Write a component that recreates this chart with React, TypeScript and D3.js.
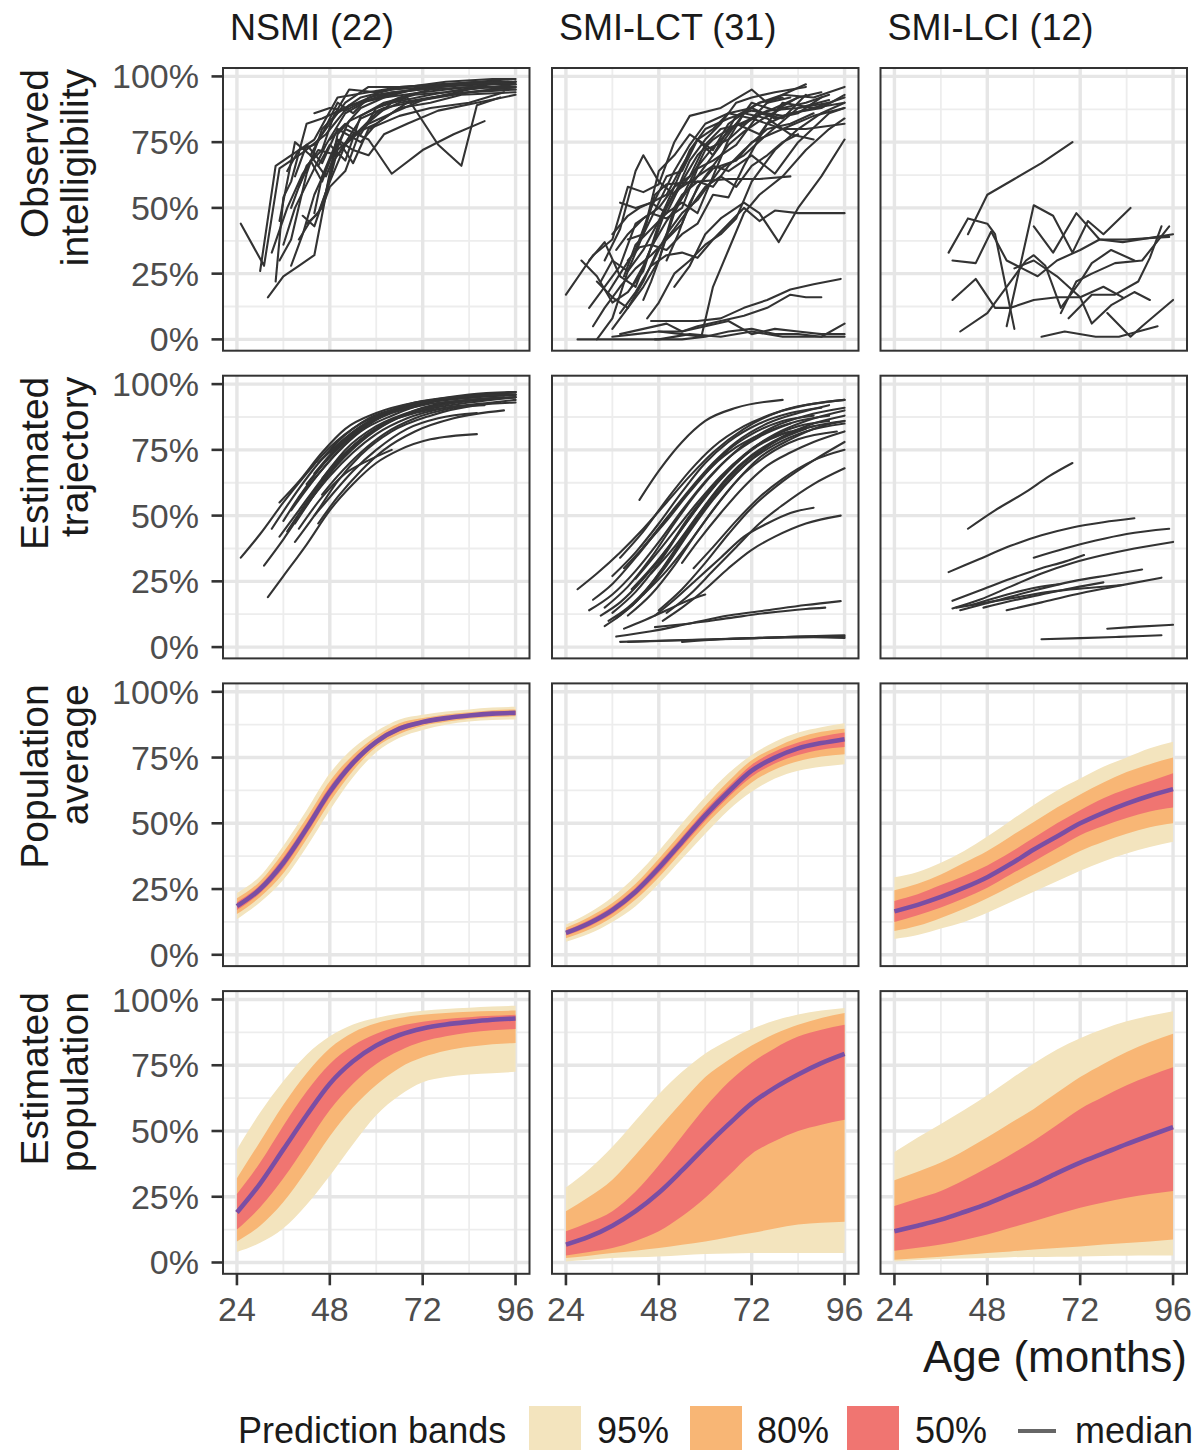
import React from 'react';
import * as d3 from 'd3';

// ---- layout / ticks ----
const ageTicks = [24, 48, 72, 96];
const ageMinor = [36, 60, 84];
const pctTicks = [0, 0.25, 0.5, 0.75, 1];
const pctMinor = [0.125, 0.375, 0.625, 0.875];
const groups = ['NSMI (22)', 'SMI-LCT (31)', 'SMI-LCI (12)'];
const rowTitles = [
  ['Observed', 'intelligibility'],
  ['Estimated', 'trajectory'],
  ['Population', 'average'],
  ['Estimated', 'population'],
];
const bandAges = [24, 30, 36, 42, 48, 54, 60, 66, 72, 78, 84, 90, 96];

// ---- observed intelligibility, one list of [age, %] per child ----
const nsmiObserved = [
  [[25, 44], [31, 28], [35, 65], [41, 71], [47, 78], [53, 89], [62, 92], [72, 96], [84, 97], [96, 97]],
  [[30, 26], [34, 66], [38, 70], [44, 76], [50, 92], [58, 94], [66, 96], [78, 97], [95, 99]],
  [[32, 16], [36, 24], [40, 28], [44, 32], [47, 55], [50, 72], [56, 80], [64, 90], [74, 93], [86, 96], [96, 95]],
  [[34, 22], [36, 54], [38, 60], [42, 82], [46, 84], [52, 88], [60, 93], [70, 95], [82, 97], [95, 98]],
  [[33, 33], [37, 50], [41, 63], [45, 72], [50, 70], [56, 84], [62, 88], [72, 91], [84, 94], [96, 96]],
  [[35, 45], [39, 75], [43, 70], [47, 62], [52, 80], [58, 76], [64, 63], [72, 72], [80, 78], [88, 83]],
  [[38, 28], [41, 40], [44, 55], [48, 68], [53, 83], [60, 88], [68, 92], [76, 74], [82, 66], [86, 89], [92, 92]],
  [[36, 36], [39, 50], [43, 62], [47, 74], [52, 86], [58, 91], [66, 94], [76, 96], [88, 97], [96, 98]],
  [[40, 38], [43, 45], [46, 50], [49, 68], [54, 78], [60, 82], [68, 90], [78, 93], [90, 95], [96, 96]],
  [[42, 44], [45, 48], [48, 60], [52, 74], [58, 82], [64, 86], [72, 91], [84, 95], [96, 97]],
  [[41, 47], [44, 43], [47, 56], [50, 78], [56, 88], [62, 92], [72, 94], [84, 96], [96, 98]],
  [[37, 64], [40, 72], [44, 74], [48, 82], [52, 90], [58, 96], [66, 96], [76, 97], [88, 98], [96, 98]],
  [[40, 58], [43, 68], [46, 60], [50, 76], [54, 67], [58, 80], [66, 85], [74, 88], [84, 90], [93, 94]],
  [[44, 86], [48, 88], [52, 87], [56, 90], [62, 93], [70, 95], [80, 97], [92, 97]],
  [[38, 50], [42, 66], [46, 72], [49, 85], [53, 95], [60, 94], [68, 96], [78, 98], [90, 99], [96, 99]],
  [[35, 30], [38, 38], [42, 63], [46, 80], [50, 86], [56, 92], [64, 95], [74, 96], [86, 98], [96, 97]],
  [[44, 48], [46, 62], [50, 76], [54, 72], [58, 70], [62, 78], [68, 82], [76, 87], [86, 90], [96, 93]],
  [[46, 50], [48, 58], [52, 64], [56, 80], [60, 86], [66, 90], [74, 92], [84, 94], [96, 95]],
  [[39, 62], [42, 74], [46, 67], [50, 80], [56, 75], [60, 82], [66, 88], [74, 90], [82, 93], [96, 94]],
  [[43, 70], [46, 78], [50, 90], [54, 86], [58, 92], [64, 94], [72, 95], [82, 97], [94, 98]],
  [[48, 76], [52, 82], [56, 78], [60, 88], [66, 92], [74, 95], [84, 96], [96, 96]],
  [[45, 66], [48, 74], [52, 68], [56, 85], [62, 90], [70, 93], [78, 94], [88, 96]],
];

const lctObserved = [
  [[24, 17], [31, 32], [36, 38], [40, 58], [44, 56], [48, 59], [52, 75], [56, 85], [64, 88], [72, 95], [76, 90], [80, 93], [86, 97]],
  [[30, 30], [34, 37], [38, 24], [42, 20], [46, 35], [50, 45], [56, 58], [62, 70], [68, 85], [74, 90], [80, 93], [88, 92], [96, 96]],
  [[32, 0], [36, 8], [40, 26], [44, 34], [48, 45], [52, 58], [56, 72], [60, 80], [66, 84], [72, 87], [80, 85], [88, 88], [96, 90]],
  [[34, 30], [38, 42], [42, 64], [44, 70], [48, 60], [52, 55], [56, 62], [62, 73], [68, 82], [74, 78], [80, 90], [88, 88], [96, 92]],
  [[36, 4], [40, 12], [44, 20], [48, 30], [52, 48], [56, 60], [60, 72], [66, 76], [72, 84], [80, 80], [86, 80], [96, 82]],
  [[38, 10], [42, 18], [46, 28], [50, 40], [54, 48], [58, 53], [64, 65], [70, 70], [76, 78], [84, 88], [92, 90]],
  [[31, 5], [34, 12], [38, 20], [42, 27], [46, 32], [50, 38], [54, 44], [58, 58], [62, 65], [68, 68], [72, 75], [80, 80], [88, 85], [96, 88]],
  [[28, 30], [32, 24], [36, 14], [40, 18], [44, 26], [48, 44], [52, 56], [56, 60], [62, 66], [66, 64], [72, 70], [78, 63], [84, 75], [92, 86], [96, 88]],
  [[40, 38], [44, 40], [48, 64], [52, 70], [56, 78], [62, 72], [66, 82], [70, 86], [76, 84], [82, 78], [88, 76]],
  [[38, 52], [42, 50], [46, 52], [50, 55], [54, 66], [58, 76], [62, 80], [66, 86], [72, 84], [76, 90], [82, 92]],
  [[44, 40], [47, 55], [50, 59], [58, 60], [66, 61], [74, 61], [82, 62]],
  [[46, 28], [50, 32], [54, 33], [58, 31], [62, 38], [66, 44], [70, 50], [74, 45], [78, 49], [84, 48], [90, 48], [96, 48]],
  [[52, 20], [56, 28], [60, 40], [64, 46], [70, 52], [74, 48], [79, 37], [84, 50], [90, 62], [96, 76]],
  [[46, 7], [52, 7], [58, 7], [64, 8], [70, 12], [76, 15], [82, 19], [88, 21], [95, 23]],
  [[36, 1], [42, 2], [48, 3], [54, 3], [58, 5], [64, 7], [70, 9], [76, 12], [82, 17], [86, 16], [90, 16]],
  [[27, 0], [33, 0], [40, 0], [48, 0], [56, 2], [64, 1], [72, 3], [80, 1], [88, 1], [96, 1]],
  [[47, 0], [54, 0], [60, 1], [66, 3], [72, 4], [78, 2], [84, 2], [90, 1], [96, 6]],
  [[38, 2], [44, 4], [50, 6], [54, 3], [60, 5], [66, 7], [72, 2], [78, 4], [84, 3], [90, 2], [96, 2]],
  [[33, 22], [36, 30], [40, 26], [44, 40], [48, 52], [52, 64], [56, 74], [60, 82], [66, 86], [72, 88], [78, 84], [84, 86], [90, 92]],
  [[35, 18], [38, 25], [42, 34], [46, 50], [50, 62], [54, 64], [58, 76], [62, 70], [66, 78], [72, 90], [78, 87], [84, 92], [90, 94]],
  [[30, 12], [34, 20], [38, 28], [42, 44], [46, 48], [50, 46], [54, 50], [58, 65], [62, 68], [68, 74], [74, 86], [80, 84], [86, 93]],
  [[39, 24], [42, 36], [46, 42], [50, 48], [54, 52], [58, 48], [62, 62], [66, 76], [70, 86], [74, 90], [80, 92]],
  [[44, 15], [46, 22], [48, 30], [50, 40], [52, 50], [54, 55], [58, 60], [62, 58], [66, 66], [70, 72], [76, 80], [82, 82], [88, 86]],
  [[48, 3], [54, 2], [59, 1], [62, 20], [66, 34], [70, 48], [74, 55], [80, 62], [86, 72], [92, 80], [96, 84]],
  [[40, 30], [43, 35], [46, 36], [50, 34], [54, 40], [58, 44], [62, 55], [66, 54], [70, 66], [76, 82], [82, 86], [90, 88], [96, 93]],
  [[36, 40], [40, 47], [43, 50], [46, 52], [50, 48], [54, 60], [58, 70], [62, 76], [66, 80], [72, 84], [78, 88], [84, 92]],
  [[45, 8], [48, 14], [52, 25], [56, 30], [60, 36], [64, 40], [68, 46], [72, 60], [78, 72], [84, 80], [90, 86], [96, 90]],
  [[32, 22], [36, 16], [40, 12], [44, 22], [48, 35], [52, 42], [56, 50], [60, 58], [64, 62], [68, 58], [72, 66], [76, 70], [80, 75], [84, 78]],
  [[37, 34], [40, 40], [44, 46], [48, 50], [52, 58], [56, 62], [60, 74], [64, 80], [70, 82], [76, 87], [84, 88], [92, 91]],
  [[50, 30], [53, 40], [56, 52], [59, 60], [62, 66], [66, 74], [70, 79], [75, 84], [80, 88], [86, 90], [92, 93]],
  [[41, 20], [44, 28], [47, 38], [50, 50], [53, 58], [56, 68], [60, 76], [64, 82], [68, 90], [72, 92], [78, 94], [86, 96]],
];

const lciObserved = [
  [[38, 33], [43, 46], [48, 44], [50, 40], [55, 4]],
  [[43, 40], [48, 55], [55, 61], [62, 67], [70, 75]],
  [[39, 30], [45, 29], [49, 41], [53, 30], [57, 27], [61, 24], [66, 30], [72, 34], [77, 38], [84, 38], [95, 39]],
  [[39, 15], [45, 23], [50, 12], [54, 12], [60, 15], [66, 16], [72, 16], [78, 20], [83, 16]],
  [[41, 3], [48, 10], [54, 22], [58, 30], [60, 32], [63, 28], [67, 12], [72, 22], [75, 29], [80, 34], [86, 30]],
  [[53, 5], [60, 51], [65, 47], [70, 33], [74, 45], [78, 40], [85, 50]],
  [[60, 43], [65, 33], [71, 48], [77, 38], [83, 37], [96, 40]],
  [[55, 27], [60, 30], [66, 24], [72, 16], [75, 6], [80, 13], [86, 18], [90, 15]],
  [[67, 10], [71, 22], [75, 25], [81, 29], [88, 30], [95, 43]],
  [[69, 8], [75, 17], [81, 17], [87, 22], [90, 31], [93, 43]],
  [[79, 10], [85, 1], [88, 5], [96, 15]],
  [[62, 1], [68, 3], [76, 1], [82, 1], [92, 5]],
];

// ---- estimated individual trajectories ----
const nsmiEstimated = [
  [[25, 34], [30, 43], [36, 55], [42, 66], [48, 76], [56, 85], [64, 90], [72, 93], [84, 95], [96, 96]],
  [[31, 31], [36, 41], [42, 54], [48, 66], [56, 78], [64, 86], [72, 91], [84, 94], [96, 95]],
  [[32, 19], [36, 27], [42, 39], [48, 52], [54, 62], [60, 70], [66, 75], [74, 79], [86, 81]],
  [[33, 45], [38, 56], [44, 68], [50, 78], [58, 87], [66, 91], [76, 94], [88, 96], [96, 97]],
  [[35, 42], [40, 52], [46, 64], [52, 75], [60, 84], [70, 90], [80, 93], [93, 95]],
  [[35, 55], [40, 63], [46, 74], [52, 83], [60, 89], [70, 93], [82, 95], [96, 97]],
  [[37, 44], [42, 55], [48, 67], [54, 76], [62, 85], [72, 90], [84, 93], [96, 95]],
  [[39, 40], [44, 50], [50, 63], [56, 73], [64, 82], [74, 88], [86, 92], [96, 93]],
  [[40, 57], [44, 64], [50, 74], [56, 82], [64, 88], [74, 93], [86, 95], [96, 96]],
  [[36, 48], [40, 57], [46, 69], [52, 79], [60, 87], [70, 92], [82, 95], [96, 96]],
  [[44, 50], [48, 57], [54, 67], [60, 75], [68, 83], [76, 87], [86, 89]],
  [[45, 47], [50, 57], [56, 67], [62, 75], [70, 82], [80, 87], [93, 90]],
  [[40, 45], [46, 57], [52, 66], [58, 71], [64, 75]],
  [[38, 52], [42, 60], [48, 71], [54, 80], [62, 88], [72, 93], [84, 96], [96, 97]],
  [[42, 62], [46, 69], [52, 78], [58, 85], [66, 91], [76, 94], [88, 96], [96, 97]],
  [[44, 66], [48, 73], [54, 81], [60, 87], [70, 92], [80, 95], [95, 96]],
  [[46, 58], [50, 65], [56, 74], [62, 81], [70, 87], [80, 91], [92, 93]],
  [[39, 47], [44, 58], [50, 70], [56, 79], [64, 86], [74, 91], [86, 94], [96, 95]],
  [[43, 56], [48, 65], [54, 74], [60, 81], [68, 87], [78, 91], [90, 93], [96, 94]],
  [[45, 70], [50, 77], [56, 84], [62, 89], [70, 93], [80, 95], [94, 96]],
  [[48, 74], [52, 79], [58, 85], [64, 89], [72, 92], [84, 94], [96, 95]],
  [[46, 64], [50, 71], [56, 79], [62, 85], [70, 89], [78, 91], [88, 92]],
];

const lctEstimated = [
  [[43, 56], [48, 67], [54, 78], [60, 86], [68, 91], [80, 94]],
  [[27, 22], [32, 28], [38, 36], [44, 45], [50, 55], [56, 65], [62, 74], [70, 83], [80, 90], [90, 93], [96, 94]],
  [[34, 8], [38, 12], [44, 20], [50, 31], [56, 44], [62, 56], [68, 66], [74, 74], [80, 80], [88, 85], [96, 88]],
  [[37, 4], [46, 6], [56, 9], [66, 12], [76, 14], [86, 16], [95, 17.5]],
  [[38, 2], [50, 2.5], [62, 3], [74, 3.5], [86, 4], [96, 4]],
  [[47, 7.6], [56, 9], [66, 11], [76, 13], [86, 14.5], [91, 15]],
  [[54, 2], [64, 3], [74, 3.5], [84, 4], [96, 4.5]],
  [[40, 2], [52, 2.5], [64, 3], [76, 3.5], [88, 3.8], [96, 3.5]],
  [[31, 18], [36, 24], [42, 34], [48, 45], [54, 56], [60, 66], [66, 75], [72, 81], [80, 86], [88, 88]],
  [[33, 12], [38, 17], [44, 26], [50, 37], [56, 50], [62, 61], [68, 70], [76, 79], [84, 84], [92, 86]],
  [[35, 10], [40, 15], [46, 24], [52, 36], [58, 49], [64, 60], [70, 69], [78, 77], [86, 82], [96, 85]],
  [[36, 13], [42, 21], [48, 32], [54, 45], [60, 57], [66, 67], [72, 75], [80, 81], [88, 84]],
  [[34, 15], [40, 23], [46, 34], [52, 47], [58, 59], [64, 69], [70, 77], [78, 84], [86, 88], [96, 91]],
  [[37, 11], [42, 17], [48, 28], [54, 41], [60, 54], [66, 65], [72, 73], [80, 80], [88, 84], [96, 86]],
  [[40, 12], [46, 20], [52, 31], [58, 44], [64, 56], [70, 66], [76, 73], [84, 79], [94, 82]],
  [[42, 26], [46, 33], [52, 44], [58, 55], [64, 65], [70, 73], [76, 79], [82, 82]],
  [[39, 7], [44, 10], [50, 14], [56, 18], [60, 20]],
  [[48, 14], [54, 22], [60, 32], [66, 43], [72, 53], [80, 63], [88, 71], [96, 78]],
  [[47, 12], [52, 18], [58, 26], [64, 34], [70, 42], [76, 47], [82, 51], [88, 53]],
  [[49, 10], [54, 15], [60, 22], [66, 30], [72, 37], [78, 42], [86, 47], [95, 50]],
  [[50, 13], [56, 20], [62, 29], [68, 38], [74, 47], [80, 54], [88, 62], [96, 68]],
  [[39, 30], [44, 38], [50, 49], [56, 60], [62, 70], [68, 78], [76, 85], [84, 89], [92, 92]],
  [[41, 22], [46, 30], [52, 41], [58, 53], [64, 64], [70, 73], [78, 81], [86, 86], [96, 90]],
  [[44, 20], [50, 29], [56, 40], [62, 52], [68, 63], [74, 72], [82, 79], [90, 84], [96, 86]],
  [[46, 28], [52, 38], [58, 50], [64, 61], [70, 70], [78, 78], [86, 83]],
  [[30, 14], [36, 20], [42, 29], [48, 40], [54, 52], [60, 63], [66, 72], [74, 80], [82, 85]],
  [[38, 34], [44, 44], [50, 56], [56, 67], [62, 76], [70, 84], [78, 89], [86, 92], [96, 94]],
  [[36, 27], [42, 36], [48, 47], [54, 59], [60, 70], [66, 78], [74, 85], [82, 89], [90, 91]],
  [[44, 38], [50, 48], [56, 59], [62, 69], [68, 76], [76, 82], [84, 86], [92, 88]],
  [[54, 32], [58, 40], [64, 51], [70, 61], [76, 69], [82, 74], [88, 78], [96, 82]],
  [[57, 30], [62, 38], [68, 48], [74, 57], [80, 64], [88, 71], [96, 75]],
];

const lciEstimated = [
  [[43, 45], [50, 52], [58, 59], [64, 65], [70, 70]],
  [[38, 28.5], [46, 33.5], [54, 38.5], [62, 42.5], [70, 45.5], [78, 47.5], [86, 49]],
  [[60, 34], [68, 37.5], [76, 40.5], [84, 43], [95, 45]],
  [[39, 17.6], [46, 21.5], [54, 26], [62, 30], [68, 32.5], [73, 35]],
  [[39, 14.7], [46, 18], [54, 23], [62, 28], [70, 32], [78, 35], [86, 37.5], [96, 40]],
  [[41, 14], [50, 17.5], [60, 21.5], [70, 25], [80, 27.5], [88, 29.5]],
  [[47, 15], [54, 17.5], [62, 20], [70, 22.5], [78, 24.6]],
  [[53, 14], [62, 17], [70, 19.8], [80, 22.8], [93, 26.4]],
  [[40, 15], [48, 17], [56, 19], [64, 21], [74, 22.5], [83, 23.6]],
  [[79, 7], [86, 7.7], [96, 8.5]],
  [[62, 3], [72, 3.4], [82, 3.9], [93, 4.5]],
  [[44, 16], [52, 19.5], [60, 22.5], [67, 24]],
];

// ---- population average (row 3), % at bandAges ----
const nsmiAvgMed = [18.5, 25, 35, 48, 62, 73, 81, 86, 88.5, 90, 91, 91.7, 92];
const nsmiAvgLo50 = [17, 23.5, 33, 46, 60, 71.5, 80, 85, 87.7, 89.3, 90.4, 91, 91.3];
const nsmiAvgHi50 = [20, 26.5, 37, 50, 64, 74.5, 82, 87, 89.3, 90.7, 91.6, 92.4, 92.7];
const nsmiAvgLo80 = [15.5, 22, 31, 44, 58, 70, 79, 84, 87, 88.6, 89.8, 90.4, 90.7];
const nsmiAvgHi80 = [21.5, 28, 39, 52, 66, 76, 83, 88, 90, 91.4, 92.2, 93, 93.3];
const nsmiAvgLo95 = [13.5, 20, 28.5, 41, 55, 67.5, 77, 82.5, 85.5, 87.5, 88.7, 89.3, 89.5];
const nsmiAvgHi95 = [23.5, 30, 41.5, 55, 69, 78.5, 85, 89.5, 91.3, 92.5, 93.3, 94, 94.3];

const lctAvgMed = [8.3, 12, 17, 24, 33, 43, 53, 62, 70, 75, 78.5, 80.5, 82];
const lctAvgLo50 = [7.3, 10.8, 15.6, 22.5, 31.2, 41.2, 51, 60, 67.7, 72.7, 76, 78, 79];
const lctAvgHi50 = [9.3, 13.2, 18.4, 25.5, 34.8, 44.8, 55, 64, 72.3, 77.3, 80.7, 83, 84.5];
const lctAvgLo80 = [6.3, 9.6, 14.3, 21, 29.5, 39.3, 49.2, 58, 65.5, 70.5, 73.6, 75.4, 76.3];
const lctAvgHi80 = [10.3, 14.4, 19.7, 27, 36.5, 46.7, 56.8, 66, 74, 78.7, 82.5, 84.8, 86];
const lctAvgLo95 = [5, 8, 12.5, 18.5, 27, 36.5, 46, 55, 62, 67, 70, 71.5, 72.5];
const lctAvgHi95 = [11.5, 16, 22, 30, 39.5, 50, 60, 69, 76, 81, 84.5, 86.5, 88];

const lciAvgMed = [16.5, 19, 22, 25.5, 29.5, 34.5, 40, 45, 50, 54, 57.5, 60.5, 63];
const lciAvgLo50 = [12.5, 15, 18, 21.5, 25.5, 30.5, 35.5, 40.5, 45.5, 49, 52, 54.5, 56];
const lciAvgHi50 = [20.5, 23, 26.5, 30, 34, 39, 44.5, 50, 55, 59.5, 63, 66, 69];
const lciAvgLo80 = [9, 11, 14, 17.5, 21.5, 26, 30.5, 35, 39.5, 43, 46, 48.5, 50];
const lciAvgHi80 = [24.5, 27, 30.5, 35, 39.5, 45, 50.5, 56, 61, 65.5, 69.5, 72.5, 75];
const lciAvgLo95 = [6, 7.5, 10, 12.5, 16, 20, 24, 28, 32, 35.5, 38.5, 41, 43];
const lciAvgHi95 = [29.5, 31.5, 35, 39.5, 45, 51, 57, 62.5, 67, 71.5, 75, 78.5, 81];

// ---- estimated population (row 4) ----
const nsmiPopMed = [19, 30, 43, 56, 68, 76.5, 82.5, 86.5, 89, 90.5, 91.5, 92.3, 92.8];
const nsmiPopLo50 = [12.5, 21, 32, 45, 58, 68, 75.5, 80.5, 84, 86, 87.5, 88.3, 88.8];
const nsmiPopHi50 = [26, 38, 52, 65, 75.5, 82.5, 87, 89.8, 91.5, 92.6, 93.3, 93.8, 94.2];
const nsmiPopLo80 = [8, 14, 23, 35, 48, 59, 67.5, 74, 78, 80.5, 82, 83, 83.5];
const nsmiPopHi80 = [32, 46, 60, 72, 81.5, 87.5, 91, 93, 94.2, 94.9, 95.3, 95.6, 95.8];
const nsmiPopLo95 = [4, 7.5, 13, 22, 33, 45, 56, 63.5, 68.5, 70.5, 71.5, 72, 72.5];
const nsmiPopHi95 = [43, 57, 69, 79, 86, 90.5, 93, 94.7, 95.7, 96.4, 96.9, 97.3, 97.6];

const lctPopMed = [6.8, 9.8, 14, 19.5, 26.5, 35, 44, 52.5, 60.5, 66.5, 71.5, 75.8, 79.3];
const lctPopLo50 = [2.7, 4, 5.5, 8.2, 11.9, 17.6, 24.6, 33, 41.3, 46.2, 50, 52.4, 54.3];
const lctPopHi50 = [11.9, 15.3, 19.5, 27, 37, 48, 59, 68.5, 76, 81.5, 85.9, 88.5, 90.4];
const lctPopLo80 = [1.7, 2.6, 3.6, 4.5, 5.5, 6.7, 8, 9.6, 11.2, 12.9, 14.4, 15.1, 15.5];
const lctPopHi80 = [19.5, 25, 31.5, 41, 51, 61, 70.5, 77, 82.5, 87, 90.4, 93, 94.9];
const lctPopLo95 = [0.4, 1, 1.7, 2, 2.3, 2.8, 3.2, 3.4, 3.6, 3.6, 3.6, 3.6, 3.6];
const lctPopHi95 = [28.5, 35.5, 44, 54, 64, 72.5, 79.5, 84.5, 88.8, 92, 94.3, 95.8, 96.8];

const lciPopMed = [11.9, 14, 16.3, 19.2, 22.3, 26, 29.7, 34, 38, 41.5, 45, 48.3, 51.5];
const lciPopLo50 = [4.5, 5.6, 6.8, 8.6, 10.6, 13.2, 15.7, 18.3, 20.8, 22.8, 24.6, 26, 27.2];
const lciPopHi50 = [21.5, 24.3, 27.2, 31.4, 36, 41, 46.3, 52.3, 58.4, 63, 67.4, 71, 74.2];
const lciPopLo80 = [1, 1.6, 2.2, 2.9, 3.6, 4.2, 4.9, 5.5, 6.1, 6.8, 7.4, 8, 8.7];
const lciPopHi80 = [31.3, 34.5, 38, 42.5, 47.6, 53, 58.4, 64.5, 70.5, 75.5, 80, 83.8, 87];
const lciPopLo95 = [0.4, 0.9, 1.3, 1.5, 1.7, 2, 2.1, 2.2, 2.3, 2.5, 2.6, 2.7, 2.7];
const lciPopHi95 = [42, 47.5, 52.7, 58, 63.6, 69.7, 75.7, 81, 85.3, 88.8, 91.7, 93.8, 95.5];

const bandColors = { b95: '#F3E4BE', b80: '#F8B675', b50: '#F07571' };
const medianColor = '#7A4EA4';
const lineColor = '#333333';
const FONT = '"Liberation Sans", Arial, Helvetica, sans-serif';

type Pt = number[];
type BandSet = { med: number[]; lo50: number[]; hi50: number[]; lo80: number[]; hi80: number[]; lo95: number[]; hi95: number[] };

const spaghetti: Pt[][][][] = [
  [nsmiObserved, lctObserved, lciObserved],
  [nsmiEstimated, lctEstimated, lciEstimated],
];

const bands: BandSet[][] = [
  [
    { med: nsmiAvgMed, lo50: nsmiAvgLo50, hi50: nsmiAvgHi50, lo80: nsmiAvgLo80, hi80: nsmiAvgHi80, lo95: nsmiAvgLo95, hi95: nsmiAvgHi95 },
    { med: lctAvgMed, lo50: lctAvgLo50, hi50: lctAvgHi50, lo80: lctAvgLo80, hi80: lctAvgHi80, lo95: lctAvgLo95, hi95: lctAvgHi95 },
    { med: lciAvgMed, lo50: lciAvgLo50, hi50: lciAvgHi50, lo80: lciAvgLo80, hi80: lciAvgHi80, lo95: lciAvgLo95, hi95: lciAvgHi95 },
  ],
  [
    { med: nsmiPopMed, lo50: nsmiPopLo50, hi50: nsmiPopHi50, lo80: nsmiPopLo80, hi80: nsmiPopHi80, lo95: nsmiPopLo95, hi95: nsmiPopHi95 },
    { med: lctPopMed, lo50: lctPopLo50, hi50: lctPopHi50, lo80: lctPopLo80, hi80: lctPopHi80, lo95: lctPopLo95, hi95: lctPopHi95 },
    { med: lciPopMed, lo50: lciPopLo50, hi50: lciPopHi50, lo80: lciPopLo80, hi80: lciPopHi80, lo95: lciPopLo95, hi95: lciPopHi95 },
  ],
];

const colLeft = [223, 552, 880.5];
const rowTop = [68, 375.7, 683.4, 991.1];
const panelW = 306.5;
const panelH = 282.7;

const x = d3.scaleLinear().domain([20.4, 99.6]).range([0, panelW]);
const y = d3.scaleLinear().domain([-0.043, 1.032]).range([panelH, 0]);

const line = d3.line<Pt>().x(d => x(d[0])).y(d => y(d[1] / 100));
const smooth = d3.line<Pt>().x(d => x(d[0])).y(d => y(d[1] / 100)).curve(d3.curveMonotoneX);

function bandPath(lo: number[], hi: number[]) {
  const area = d3.area<number>()
    .x((_, i) => x(bandAges[i]))
    .y0((_, i) => y(lo[i] / 100))
    .y1((_, i) => y(hi[i] / 100))
    .curve(d3.curveMonotoneX);
  return area(bandAges) || '';
}

function medPath(med: number[]) {
  return d3.line<number>()
    .x(d => x(d))
    .y((_, i) => y(med[i] / 100))
    .curve(d3.curveMonotoneX)(bandAges) || '';
}

function Panel({ row, col }: { row: number; col: number }) {
  const id = `clip-${row}-${col}`;
  return (
    <g transform={`translate(${colLeft[col]},${rowTop[row]})`}>
      <defs>
        <clipPath id={id}><rect x={0} y={0} width={panelW} height={panelH} /></clipPath>
      </defs>
      <rect x={0} y={0} width={panelW} height={panelH} fill="#fff" />
      {ageMinor.map(a => <line key={'xm' + a} x1={x(a)} x2={x(a)} y1={0} y2={panelH} stroke="#ededed" strokeWidth={1.8} />)}
      {pctMinor.map(p => <line key={'ym' + p} x1={0} x2={panelW} y1={y(p)} y2={y(p)} stroke="#ededed" strokeWidth={1.8} />)}
      {ageTicks.map(a => <line key={'xM' + a} x1={x(a)} x2={x(a)} y1={0} y2={panelH} stroke="#e6e6e6" strokeWidth={3.4} />)}
      {pctTicks.map(p => <line key={'yM' + p} x1={0} x2={panelW} y1={y(p)} y2={y(p)} stroke="#e6e6e6" strokeWidth={3.4} />)}
      <g clipPath={`url(#${id})`}>
        {row < 2 && spaghetti[row][col].map((pts, i) => (
          <path key={i} d={(row === 0 ? line : smooth)(pts as Pt[]) || ''} fill="none"
            stroke={lineColor} strokeWidth={2.1} strokeLinejoin="round" strokeLinecap="round" />
        ))}
        {row >= 2 && (() => {
          const b = bands[row - 2][col];
          return (
            <g>
              <path d={bandPath(b.lo95, b.hi95)} fill={bandColors.b95} />
              <path d={bandPath(b.lo80, b.hi80)} fill={bandColors.b80} />
              <path d={bandPath(b.lo50, b.hi50)} fill={bandColors.b50} />
              <path d={medPath(b.med)} fill="none" stroke={medianColor} strokeWidth={4.6} />
            </g>
          );
        })()}
      </g>
      <rect x={0} y={0} width={panelW} height={panelH} fill="none" stroke="#333" strokeWidth={2} />
    </g>
  );
}

export default function App() {
  const pct = d3.format('.0%');
  return (
    <svg width={1201} height={1450} style={{ display: 'block', position: 'absolute', left: 0, top: 0 }} fontFamily={FONT}>
      <rect x={0} y={0} width={1201} height={1450} fill="#fff" />
      {groups.map((g, c) => (
        <text key={g} x={colLeft[c] + 7} y={40} fontSize={36} fill="#1a1a1a">{g}</text>
      ))}
      {rowTop.map((t, r) => (
        <g key={'r' + r}>
          <text transform={`translate(48,${t + 1}) rotate(-90)`} textAnchor="end" fontSize={39} fill="#1a1a1a">{rowTitles[r][0]}</text>
          <text transform={`translate(88,${t + 1}) rotate(-90)`} textAnchor="end" fontSize={39} fill="#1a1a1a">{rowTitles[r][1]}</text>
          {pctTicks.map(p => (
            <g key={p}>
              <line x1={211.5} x2={colLeft[0]} y1={t + y(p)} y2={t + y(p)} stroke="#333" strokeWidth={2.6} />
              <text x={199} y={t + y(p) + 12} textAnchor="end" fontSize={34} fill="#4d4d4d">{pct(p)}</text>
            </g>
          ))}
          {colLeft.map((_, c) => <Panel key={c} row={r} col={c} />)}
        </g>
      ))}
      {colLeft.map((l, c) => (
        <g key={'xa' + c}>
          {ageTicks.map(a => (
            <g key={a}>
              <line x1={l + x(a)} x2={l + x(a)} y1={rowTop[3] + panelH} y2={rowTop[3] + panelH + 11.5} stroke="#333" strokeWidth={2.6} />
              <text x={l + x(a)} y={1321} textAnchor="middle" fontSize={34} fill="#4d4d4d">{a}</text>
            </g>
          ))}
        </g>
      ))}
      <text x={colLeft[2] + panelW} y={1372} textAnchor="end" fontSize={44} fill="#1a1a1a">Age (months)</text>
      <g fontSize={36} fill="#1a1a1a">
        <text x={238} y={1443}>Prediction bands</text>
        <rect x={529} y={1406} width={52} height={50} fill={bandColors.b95} />
        <text x={597} y={1443}>95%</text>
        <rect x={690} y={1406} width={52} height={50} fill={bandColors.b80} />
        <text x={757} y={1443}>80%</text>
        <rect x={847} y={1406} width={52} height={50} fill={bandColors.b50} />
        <text x={915} y={1443}>50%</text>
        <line x1={1018} x2={1056} y1={1431} y2={1431} stroke="#666" strokeWidth={4} />
        <text x={1075} y={1443}>median</text>
      </g>
    </svg>
  );
}
